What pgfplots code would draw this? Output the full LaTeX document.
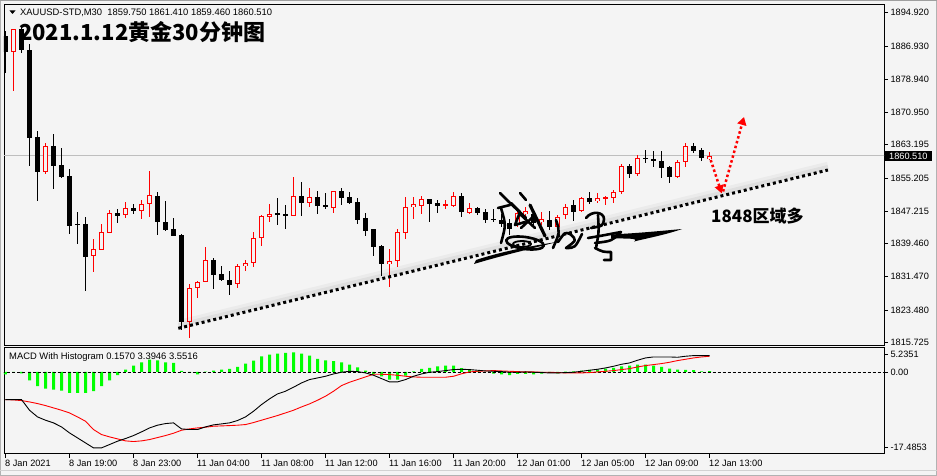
\documentclass[border=0pt]{standalone}
\usepackage{fontspec}
\setmainfont{Liberation Sans}
\newfontfamily\cjk{Noto Sans CJK SC}
\usepackage{pgfplots}
\pgfplotsset{compat=1.18}
\usepackage{pgfplotstable}
\usetikzlibrary{arrows.meta}
\definecolor{bg}{HTML}{F4F4F4}
\definecolor{grn}{HTML}{00FF00}
\definecolor{curline}{HTML}{BEBEBE}

\pgfplotstableread{
i o h l c
1 1885.55 1891.0 1876.22 1890.93
5 1856.57 1863.68 1856.16 1862.82
11 1836.38 1840.54 1832.68 1838.14
12 1837.97 1844.07 1837.9 1842.22
13 1842.05 1847.51 1842.0 1846.71
15 1846.23 1849.43 1845.66 1847.99
17 1847.20 1849.91 1845.42 1849.02
18 1849.02 1856.88 1845.90 1851.04
23 1820.59 1829.73 1816.82 1828.77
24 1828.84 1830.52 1826.44 1830.21
25 1830.28 1838.55 1830.2 1835.49
29 1829.65 1834.61 1828.76 1834.05
30 1833.97 1835.49 1832.92 1834.77
31 1834.70 1842.30 1833.74 1840.71
32 1840.71 1846.31 1838.93 1846.07
33 1845.90 1848.95 1844.70 1846.55
36 1846.14 1855.51 1846.1 1850.87
38 1849.26 1852.80 1848.30 1850.56
41 1847.92 1852.1 1846.86 1852.08
48 1834.46 1838.14 1829.08 1835.26
49 1835.26 1842.94 1833.88 1842.22
50 1841.91 1850.71 1840.54 1848.16
51 1848.16 1850.71 1845.34 1848.95
52 1848.54 1850.87 1846.55 1850.15
55 1848.6 1849.91 1847.75 1848.9
56 1848.54 1851.91 1848.30 1850.87
58 1846.86 1849.12 1846.55 1847.92
64 1843.90 1847.99 1843.5 1846.71
65 1846.47 1848.3 1845.9 1847.27
67 1844.70 1847.1 1843.9 1845.26
69 1843.50 1846.3 1843.1 1845.90
70 1846.31 1848.95 1845.26 1848.30
72 1847.34 1850.71 1847.1 1850.32
74 1849.66 1851.52 1849.1 1850.32
75 1850.4 1850.87 1848.7 1850.6
76 1850.32 1852.32 1849.26 1851.91
77 1851.76 1858.49 1851.36 1858.08
79 1856.09 1860.73 1855.75 1859.93
84 1855.51 1859.52 1855.12 1859.11
85 1858.97 1863.54 1857.77 1862.89
88 1859.75 1861.41 1859.46 1860.51
}\bull

\pgfplotstableread{
i o h l c
0 1889.3 1890.5 1880.35 1885.55
2 1891.0 1892.0 1885.2 1885.96
3 1885.96 1887.33 1858.16 1864.88
4 1864.98 1866.49 1849.74 1856.71
6 1862.89 1865.77 1852.56 1858.16
7 1858.32 1862.33 1855.27 1855.44
8 1855.68 1857.36 1841.74 1843.74
9 1844.2 1847.1 1839.27 1844.0
10 1844.14 1845.90 1828.04 1836.29
14 1846.71 1847.75 1844.46 1846.14
16 1848.06 1848.88 1846.62 1847.20
19 1850.87 1851.91 1841.50 1844.55
20 1844.55 1849.67 1842.5 1842.63
21 1842.94 1845.59 1841.3 1841.33
22 1841.5 1841.74 1818.67 1820.52
26 1835.49 1835.90 1828.52 1831.89
27 1832.06 1834.05 1830.52 1830.69
28 1830.69 1832.85 1827.08 1829.49
34 1846.79 1850.32 1843.90 1846.55
35 1846.55 1848.71 1842.94 1846.14
37 1850.87 1854.24 1846.14 1849.26
39 1850.63 1852.08 1846.55 1848.54
40 1848.7 1851.52 1847.75 1848.3
42 1852.08 1852.72 1848.71 1850.47
43 1850.63 1851.91 1849.02 1849.26
44 1849.50 1850.47 1844.14 1845.10
45 1845.66 1846.86 1841.33 1842.46
46 1842.94 1843.0 1836.53 1838.62
47 1838.86 1839.10 1831.65 1834.46
53 1850.15 1850.2 1844.55 1849.02
54 1849.26 1849.91 1846.86 1848.54
57 1850.87 1851.52 1845.90 1846.95
59 1847.92 1848.2 1846.4 1846.86
60 1847.10 1847.68 1844.46 1845.10
61 1845.4 1847.68 1844.70 1845.2
62 1845.2 1846.5 1843.5 1844.2
63 1844.5 1845.4 1841.5 1843.0
66 1846.5 1847.5 1843.8 1844.5
68 1845.10 1847.35 1842.7 1843.35
71 1848.71 1849.91 1844.94 1847.10
73 1850.3 1851.91 1848.95 1849.5
78 1858.08 1858.49 1855.27 1856.09
80 1860.0 1861.93 1858.73 1859.9
81 1859.6 1861.76 1857.77 1859.5
82 1859.36 1861.76 1855.12 1857.68
83 1857.91 1858.16 1853.92 1855.51
86 1862.89 1863.68 1861.13 1861.76
87 1861.93 1862.33 1859.28 1859.93
}\bear

\pgfplotstableread{
i hist macd sig
0 -0.5 -5.93 -5.93
1 -0.1 -5.93 -6.0
2 -0.29 -5.93 -6.14
3 -1.79 -8.21 -6.43
4 -3.07 -9.64 -6.78
5 -3.57 -10.35 -7.21
6 -3.78 -10.92 -7.71
7 -4.0 -11.78 -8.21
8 -4.5 -13.07 -8.78
9 -4.5 -14.14 -9.64
10 -4.5 -15.21 -10.57
11 -4.14 -16.28 -12.35
12 -3.07 -16.28 -13.42
13 -1.79 -15.57 -13.92
14 -0.71 -14.85 -14.35
15 0.5 -14.28 -14.78
16 1.36 -13.64 -14.92
17 2.07 -12.85 -14.78
18 2.64 -12.0 -14.5
19 2.5 -11.42 -14.07
20 2.07 -11.07 -13.64
21 1.93 -10.92 -13.14
22 0.21 -12.21 -12.5
23 -0.21 -12.35 -12.21
24 -0.5 -12.35 -12.0
25 0.05 -11.78 -11.85
26 0.29 -11.35 -11.64
27 0.5 -11.14 -11.57
28 0.64 -10.92 -11.5
29 1.07 -10.42 -11.42
30 1.79 -9.64 -11.28
31 2.43 -8.43 -10.85
32 3.36 -7.0 -10.35
33 3.71 -5.78 -9.85
34 3.93 -4.71 -9.35
35 4.07 -4.14 -8.78
36 4.21 -3.28 -8.21
37 3.93 -2.36 -7.5
38 3.5 -1.64 -6.85
39 2.79 -1.29 -6.07
40 2.5 -0.93 -5.21
41 2.29 -0.43 -4.14
42 2.07 -0.07 -2.93
43 1.57 0.14 -2.21
44 1.0 0.07 -1.64
45 0.29 -0.21 -1.07
46 -0.43 -0.71 -0.5
47 -0.93 -1.43 -0.5
48 -1.64 -2.14 -0.57
49 -1.64 -2.14 -0.71
50 -0.79 -1.64 -0.93
51 0.14 -0.93 -1.07
52 0.64 -0.43 -1.14
53 0.86 -0.07 -1.14
54 1.21 0.07 -1.14
55 1.36 0.29 -1.14
56 1.36 0.5 -0.93
57 0.8 0.57 -0.4
58 0.6 0.5 0.0
59 0.2 0.36 0.14
60 0.0 0.21 0.21
61 -0.36 0.14 0.29
62 -0.5 0.07 0.21
63 -0.71 -0.07 0.14
64 -0.43 -0.07 0.07
65 -0.43 0 0
66 -0.5 -0.07 0
67 -0.36 -0.14 -0.07
68 -0.05 -0.21 -0.07
69 -0.29 -0.21 -0.14
70 0.05 -0.14 -0.21
71 0.1 -0.07 -0.21
72 0.29 0.14 -0.21
73 0.43 0.36 -0.14
74 0.5 0.57 0
75 0.71 0.86 0.14
76 0.86 1.21 0.29
77 1.21 1.64 0.5
78 1.36 1.93 0.71
79 1.57 2.5 1.07
80 1.57 3.0 1.36
81 1.36 3.21 1.57
82 1.07 3.21 1.79
83 0.71 3.21 2.07
84 0.5 3.14 2.43
85 0.43 3.36 2.71
86 0.36 3.5 3.0
87 0.14 3.5 3.21
88 0.157 3.5 3.36
}\macd

\begin{document}
\begin{tikzpicture}
\path[use as bounding box] (0pt,0pt) rectangle (937pt,-476pt);
\fill[bg] (0pt,0pt) rectangle (937pt,-476pt);
\draw[gray!60, line width=1pt] (0.5pt,-0.5pt) rectangle (936.5pt,-475.5pt);
\draw[gray!75, line width=1.5pt] (0pt,-0.75pt) -- (937pt,-0.75pt);
\draw[gray!35, line width=1pt] (0pt,-470.5pt) -- (937pt,-470.5pt);

\pgfplotsset{
  every axis/.append style={
    scale only axis,
    xmin=-0.1875, xmax=109.81,
    axis line style={black, line width=0.9pt},
    tick align=outside, major tick length=4pt,
    tick style={black, line width=0.8pt},
    ytick pos=right, yticklabel pos=right,
    /pgf/number format/assume math mode=true,
    ticklabel style={font=\fontsize{9.2}{10}\selectfont, text=black},
    clip mode=individual,
  }
}

% ===== main price panel =====
\begin{axis}[
  anchor=north west, at={(4pt,-4.5pt)}, width=880pt, height=340.5pt,
  ymin=1815.07, ymax=1896.89,
  xtick=\empty,
  ytick={1815.725,1823.480,1831.470,1839.460,1847.215,1855.205,1863.195,1870.950,1878.940,1886.930,1894.920},
  yticklabels={1815.725,1823.480,1831.470,1839.460,1847.215,1855.205,1863.195,1870.950,1878.940,1886.930,1894.920},
  yticklabel style={anchor=west, xshift=-1pt},
  extra y ticks={1860.51}, extra y tick labels={1860.510},
  extra y tick style={major tick length=0pt, yticklabel style={fill=black, text=white, inner xsep=4pt, inner ysep=1.5pt, xshift=2pt}},
]
\addplot[forget plot, curline, line width=1pt] coordinates {(-1,1860.51) (111,1860.51)};

% bear candles
\addplot[forget plot, draw=none, mark=none, error bars/.cd, y dir=both, y explicit, error mark=none, error bar style={draw=black, line width=1pt, solid}]
  table[x=i, y expr={(\thisrow{h}+\thisrow{l})/2}, y error expr={(\thisrow{h}-\thisrow{l})/2}] {\bear};
\addplot[forget plot, draw=none, mark=none, error bars/.cd, y dir=both, y explicit, error mark=none, error bar style={draw=black, line width=5pt, solid}]
  table[x=i, y expr={(\thisrow{o}+\thisrow{c})/2}, y error expr={max(abs(\thisrow{c}-\thisrow{o})/2,0.12)}] {\bear};
% bull candles (hollow red)
\addplot[forget plot, draw=none, mark=none, error bars/.cd, y dir=both, y explicit, error mark=none, error bar style={draw=red, line width=1pt, solid}]
  table[x=i, y expr={(\thisrow{h}+\thisrow{l})/2}, y error expr={(\thisrow{h}-\thisrow{l})/2}] {\bull};
\addplot[forget plot, draw=none, mark=none, error bars/.cd, y dir=both, y explicit, error mark=none, error bar style={draw=red, line width=5pt, solid}]
  table[x=i, y expr={(\thisrow{o}+\thisrow{c})/2}, y error expr={max(abs(\thisrow{c}-\thisrow{o})/2,0.12)}] {\bull};
\addplot[forget plot, draw=none, mark=none, error bars/.cd, y dir=both, y explicit, error mark=none, error bar style={draw=bg, line width=3pt, solid}]
  table[x=i, y expr={(\thisrow{o}+\thisrow{c})/2}, y error expr={max(abs(\thisrow{c}-\thisrow{o})/2-0.24,0)}] {\bull};

% trend line with soft shadow above it
\draw[black, opacity=0.035, line width=8pt] (axis cs:21.6,1820.1) -- (axis cs:102.8,1858.14);
\draw[black, opacity=0.05, line width=4pt] (axis cs:21.6,1819.8) -- (axis cs:102.8,1857.84);
\draw[black, line width=3pt, dash pattern=on 3pt off 3pt] (axis cs:21.6,1819.08) -- (axis cs:102.8,1857.12);

% red dotted arrows
\draw[red, line width=2.5pt, dash pattern=on 2.5pt off 2.5pt, -{Triangle[length=8pt,width=9pt]}] (axis cs:88.15,1859.52) -- (axis cs:89.52,1851.52);
\draw[red, line width=2.5pt, dash pattern=on 2.5pt off 2.5pt, -{Triangle[length=8pt,width=9pt]}] (axis cs:89.69,1851.96) -- (axis cs:92.31,1869.86);
\end{axis}

% ===== MACD panel =====
\begin{axis}[
  anchor=north west, at={(4pt,-347.5pt)}, width=880pt, height=106pt,
  ymin=-17.4853, ymax=5.2351,
  ytick={-16.07,0,3.735}, yticklabels={-17.4853,0.00,5.2351},
  yticklabel style={anchor=west, xshift=-1pt},
  xtick={0,8,16,24,32,40,48,56,64,72,80,88},
  xticklabels={8 Jan 2021,8 Jan 19:00,8 Jan 23:00,11 Jan 04:00,11 Jan 08:00,11 Jan 12:00,11 Jan 16:00,11 Jan 20:00,12 Jan 01:00,12 Jan 05:00,12 Jan 09:00,12 Jan 13:00},
  xtick pos=bottom,
  xticklabel style={anchor=north west, inner sep=1pt, xshift=-1.5pt, yshift=-1pt},
]
\addplot[forget plot, ybar, bar width=3pt, fill=grn, draw=none] table[x=i, y=hist] {\macd};
\addplot[forget plot, black, line width=0.8pt, dash pattern=on 3pt off 2pt] coordinates {(-1,0) (111,0)};
\addplot[forget plot, red, line width=0.9pt, mark=none] table[x=i, y=sig] {\macd};
\addplot[forget plot, black, line width=0.9pt, mark=none] table[x=i, y=macd] {\macd};
\end{axis}

\begin{scope}[x=1pt, y=1pt]
% ===== texts =====
\fill[black] (9.5,-10.5) -- (15.5,-10.5) -- (12.5,-14) -- cycle;
\node[anchor=base west, inner sep=0pt, font=\fontsize{9.4}{10}\selectfont] at (20,-16) {XAUUSD-STD,M30\ \ 1859.750 1861.410 1859.460 1860.510};
\node[anchor=base west, inner sep=0pt, font=\cjk\bfseries\fontsize{22}{24}\selectfont] at (19,-40.5) {2021.1.12黄金30分钟图};
\node[anchor=base west, inner sep=0pt, font=\fontsize{9.4}{10}\selectfont] at (9,-359) {MACD With Histogram 0.1570 3.3946 3.5516};
\node[anchor=base west, inner sep=0pt, font=\cjk\bfseries\fontsize{17}{19}\selectfont] at (711,-222) {1848区域多};

% ===== signature (decoration) =====
\begin{scope}[black, line cap=round, line join=round, line width=2.6pt]
% bottom sweep and right tail
\fill (474,-264) .. controls (500,-256) and (530,-249) .. (557,-242) .. controls (530,-246) and (500,-252) .. (476,-260) -- cycle;
\fill (611,-234.5) .. controls (640,-233) and (660,-231) .. (682,-229) .. controls (665,-235) and (648,-238) .. (634,-241.5) .. controls (640,-238) and (625,-238.5) .. (611,-238.5) -- cycle;
% left character
\draw (500,-193) .. controls (510,-203) .. (526,-218);
\draw (520,-193) -- (526,-200);
\draw (498,-208) -- (510,-205);
\draw (501,-208) .. controls (506,-225) .. (501,-243);
\draw (511,-203) -- (520,-212) -- (515,-225) -- (525,-222);
\draw[line width=3.2pt] (530,-205) .. controls (538,-220) .. (545,-236);
\draw (521,-215) -- (535,-228);
\draw (535,-215) -- (521,-228);
\draw[rotate around={-8:(525,-243)}] (525,-243) ellipse (19 and 6);
\draw[line width=1.8pt] (522,-244) ellipse (9 and 3);
% middle character
\draw (556,-220) .. controls (560,-232) .. (553,-248);
\draw (558,-242) .. controls (565,-232) .. (570,-234) .. controls (577,-240) .. (566,-248) .. controls (575,-248) .. (582,-234);
% right character
\draw (586,-218) .. controls (592,-210) and (604,-212) .. (604,-219) .. controls (603,-226) .. (591,-228);
\draw (598,-215) .. controls (599,-232) .. (596,-248);
\draw (588,-238) .. controls (600,-236) .. (621,-232) .. controls (612,-241) .. (595,-243);
\draw (595,-248) .. controls (603,-252) .. (611,-252) -- (611,-260) -- (604,-260);
\end{scope}
\end{scope}
\end{tikzpicture}
\end{document}
